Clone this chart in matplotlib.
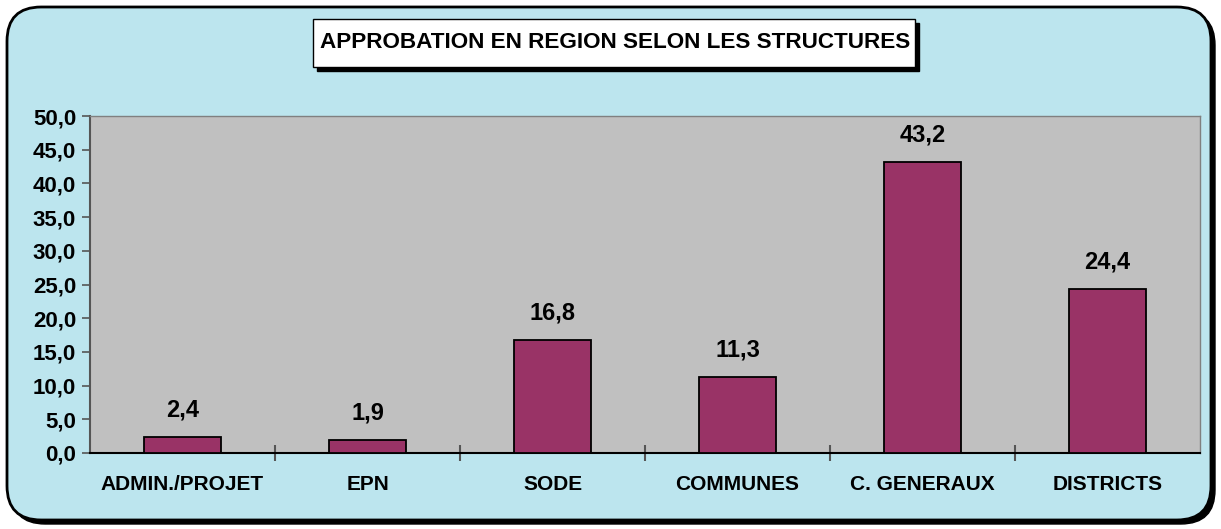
import matplotlib
matplotlib.use("Agg")
import matplotlib.pyplot as plt
from matplotlib.patches import FancyBboxPatch, Rectangle
import numpy as np

categories = ["ADMIN./PROJET", "EPN", "SODE", "COMMUNES", "C. GENERAUX", "DISTRICTS"]
values = [2.4, 1.9, 16.8, 11.3, 43.2, 24.4]
yticks = [0, 5, 10, 15, 20, 25, 30, 35, 40, 45, 50]
title = "APPROBATION EN REGION SELON LES STRUCTURES"

plt.rcParams['font.family'] = ['Liberation Sans', 'DejaVu Sans']
W, H = 1221, 529
fig = plt.figure(figsize=(W/100, H/100), dpi=100)
fig.patch.set_facecolor('white')

def fx(px): return px / W
def fy(py): return 1 - py / H

shadow = FancyBboxPatch((fx(11), fy(524)), fx(1204), fy(11) - fy(524),
                        boxstyle="round,pad=0,rounding_size=0.028", transform=fig.transFigure,
                        facecolor='black', edgecolor='black', zorder=0, mutation_aspect=W/H)
frame = FancyBboxPatch((fx(7), fy(520)), fx(1204), fy(7) - fy(520),
                       boxstyle="round,pad=0,rounding_size=0.028", transform=fig.transFigure,
                       facecolor='#bce5ee', edgecolor='black', linewidth=2, zorder=0.5, mutation_aspect=W/H)
fig.patches.extend([shadow, frame])

tshadow = Rectangle((fx(317), fy(71)), fx(602), fy(19) - fy(67), transform=fig.transFigure,
                    facecolor='black', edgecolor='black', zorder=2)
tbox = Rectangle((fx(313), fy(67)), fx(602), fy(19) - fy(67), transform=fig.transFigure,
                 facecolor='white', edgecolor='black', linewidth=1, zorder=3)
fig.patches.extend([tshadow, tbox])
fig.text(fx(615), fy(43), title, ha='center', va='center', fontsize=16.2,
         fontweight='bold', color='black', zorder=4)

ax = fig.add_axes([fx(90), fy(453), fx(1200) - fx(90), fy(116) - fy(453)])
ax.set_zorder(5)
ax.set_facecolor('#c0c0c0')
x = np.arange(len(categories))
ax.bar(x, values, width=0.415, color='#993366', edgecolor='black', linewidth=1.3, zorder=3)
ax.set_xlim(-0.5, len(categories) - 0.5)
ax.set_ylim(0, 50)
ax.set_yticks(yticks)
ax.set_yticklabels([f"{v:.1f}".replace('.', ',') for v in yticks], fontsize=16, fontweight='bold')
ax.set_xticks(x)
ax.set_xticklabels(categories, fontsize=15, fontweight='bold')
ax.tick_params(axis='x', length=0, pad=16)
ax.set_xticks(np.arange(0.5, len(categories) - 0.5, 1), minor=True)
ax.tick_params(axis='x', which='minor', direction='inout', length=12, color='#555555', width=1.5)
ax.tick_params(axis='y', direction='out', length=6, color='#555555', width=1.2, pad=4)
for s in ['top', 'right']:
    ax.spines[s].set_color('#808080')
    ax.spines[s].set_linewidth(1)
ax.spines['left'].set_color('#555555')
ax.spines['left'].set_linewidth(1.5)
ax.spines['bottom'].set_color('black')
ax.spines['bottom'].set_linewidth(1.5)

for xi, v in zip(x, values):
    ax.annotate(f"{v:.1f}".replace('.', ','), (xi, v), xytext=(0, 11), textcoords='offset points',
                ha='center', va='bottom', fontsize=17, fontweight='bold')

fig.savefig('out.png', dpi=100, facecolor=fig.get_facecolor())
